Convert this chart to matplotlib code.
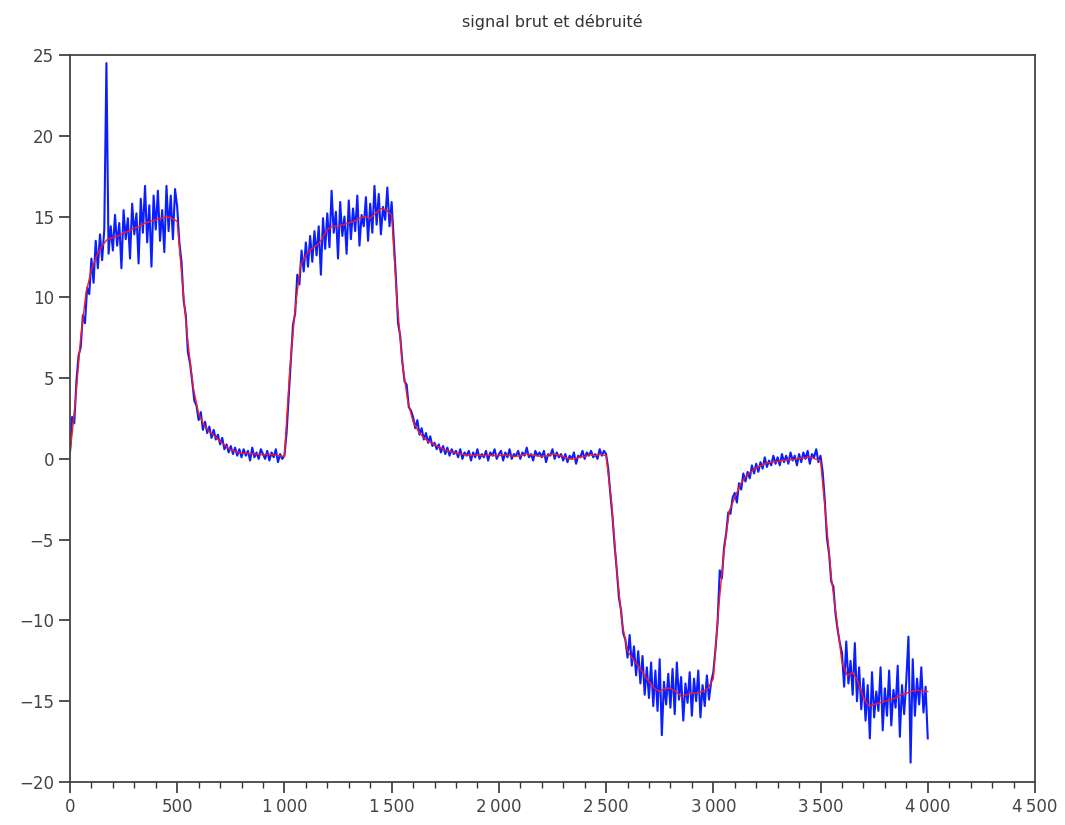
import numpy as np
import matplotlib
matplotlib.use('Agg')
import matplotlib.pyplot as plt
from matplotlib.ticker import MultipleLocator, FuncFormatter

# Signal brut : un point tous les 10 echantillons
PAS_BRUT = 10
signal_brut = [
    0.4, 2.6, 2.2, 4.8, 6.4, 6.9, 8.9, 8.4, 10.6, 10.2,
    12.4, 10.9, 13.5, 11.8, 13.9, 12.3, 14.2, 24.5, 12.7, 14.4,
    12.9, 15.1, 13.2, 14.6, 11.8, 15.4, 13.6, 14.9, 12.4, 15.8,
    13.9, 15.2, 12.1, 16.1, 14.0, 16.9, 13.4, 15.7, 11.9, 16.3,
    14.2, 16.6, 13.5, 15.4, 12.8, 16.9, 14.1, 16.3, 13.6, 16.7,
    15.6, 13.4, 12.2, 9.8, 8.9, 6.6, 5.9, 4.8, 3.6, 3.3,
    2.4, 2.9, 1.8, 2.3, 1.6, 2.0, 1.3, 1.8, 1.2, 1.5,
    0.9, 1.3, 0.6, 0.9, 0.4, 0.8, 0.3, 0.7, 0.2, 0.6,
    0.1, 0.6, 0.2, 0.5, -0.1, 0.7, 0.1, 0.4, 0.0, 0.6,
    0.3, 0.0, 0.5, -0.1, 0.4, 0.1, 0.6, -0.2, 0.3, 0.0,
    0.2, 1.6, 3.9, 6.1, 8.3, 9.0, 11.4, 10.8, 12.9, 11.6,
    13.4, 11.9, 13.8, 12.2, 14.1, 12.6, 14.4, 11.4, 14.9, 13.0,
    15.2, 13.1, 16.6, 14.0, 15.3, 12.4, 15.9, 13.8, 15.0, 12.7,
    16.0, 13.6, 15.5, 14.1, 16.3, 13.2, 15.1, 14.4, 16.2, 13.5,
    15.8, 14.0, 16.9, 14.5, 16.4, 13.9, 15.6, 14.8, 16.8, 14.4,
    15.9, 13.5, 11.2, 8.4, 7.6, 6.0, 4.8, 4.6, 3.2, 3.0,
    2.6, 1.9, 2.4, 1.5, 1.9, 1.2, 1.6, 1.0, 1.4, 0.8,
    1.0, 0.6, 0.9, 0.4, 0.8, 0.3, 0.7, 0.2, 0.6, 0.3,
    0.5, 0.1, 0.6, 0.0, 0.4, 0.2, 0.5, -0.1, 0.4, 0.1,
    0.6, 0.0, 0.3, 0.1, 0.5, -0.1, 0.4, 0.2, 0.6, 0.0,
    0.3, 0.5, -0.1, 0.4, 0.1, 0.6, 0.0, 0.3, 0.2, 0.5,
    0.0, 0.4, 0.2, 0.7, 0.1, 0.3, -0.1, 0.5, 0.2, 0.4,
    0.1, 0.5, -0.2, 0.3, 0.2, 0.6, 0.0, 0.4, 0.1, 0.3,
    -0.1, 0.3, -0.2, 0.2, 0.0, 0.4, -0.3, 0.2, 0.1, 0.5,
    0.0, 0.4, 0.2, 0.5, 0.1, 0.3, 0.0, 0.6, 0.2, 0.5,
    0.3, -0.6, -2.2, -3.6, -5.4, -6.9, -8.6, -9.4, -10.8, -11.2,
    -12.3, -10.9, -12.8, -11.6, -13.4, -11.9, -13.9, -12.2, -14.6, -12.9,
    -14.8, -12.6, -15.3, -13.1, -15.6, -12.4, -17.1, -13.8, -15.2, -13.3,
    -15.4, -13.0, -15.8, -12.6, -14.9, -13.5, -16.2, -13.9, -15.1, -13.2,
    -15.9, -13.6, -15.0, -13.1, -16.0, -14.0, -15.3, -13.4, -14.9, -13.8,
    -13.2, -11.8, -10.1, -6.9, -7.4, -5.5, -4.6, -3.3, -3.4, -2.4,
    -2.1, -2.7, -1.5, -1.9, -0.9, -1.4, -0.8, -1.2, -0.4, -0.9,
    -0.3, -0.8, -0.2, -0.6, 0.1, -0.5, -0.1, -0.4, 0.2, -0.3,
    0.1, -0.4, 0.3, -0.2, 0.2, -0.3, 0.4, -0.1, 0.2, -0.4,
    0.3, -0.2, 0.4, 0.0, 0.5, -0.3, 0.3, 0.1, 0.6, -0.2,
    0.2, -0.8, -2.6, -4.9, -5.9, -7.6, -7.9, -9.6, -10.6, -11.4,
    -12.0, -14.1, -11.3, -13.9, -12.5, -14.6, -11.4, -15.0, -12.9, -15.5,
    -13.6, -16.2, -14.0, -17.3, -13.2, -16.0, -14.4, -15.6, -12.9, -16.8,
    -14.2, -15.9, -13.1, -16.5, -14.3, -15.4, -12.8, -17.2, -14.0, -15.8,
    -13.7, -11.0, -18.8, -12.4, -15.9, -13.6, -15.2, -12.9, -15.7, -14.1,
    -17.3,
]

# Signal debruite : un point tous les 25 echantillons
PAS_DEBRUITE = 25
signal_debruite = [
    0.3, 3.5, 7.5, 10.3, 11.7, 12.6, 13.2, 13.6, 13.7, 13.8,
    14.0, 14.1, 14.3, 14.4, 14.6, 14.7, 14.8, 14.9, 15.0, 14.9,
    14.7, 10.8, 7.2, 4.4, 2.8, 2.1, 1.7, 1.4, 1.1, 0.8,
    0.55, 0.45, 0.35, 0.35, 0.3, 0.3, 0.25, 0.3, 0.25, 0.2,
    0.15, 5.5, 9.3, 12.0, 12.6, 13.0, 13.2, 13.6, 14.2, 14.4,
    14.4, 14.5, 14.6, 14.7, 14.9, 15.0, 14.9, 15.2, 15.5, 15.4,
    15.1, 9.8, 5.9, 3.6, 2.3, 1.7, 1.3, 1.05, 0.9, 0.7,
    0.55, 0.45, 0.35, 0.3, 0.25, 0.2, 0.25, 0.2, 0.25, 0.2,
    0.2, 0.25, 0.2, 0.15, 0.2, 0.3, 0.25, 0.2, 0.15, 0.2,
    0.3, 0.25, 0.15, 0.0, 0.0, 0.1, 0.15, 0.25, 0.2, 0.3,
    0.2, -2.6, -6.9, -10.2, -11.9, -12.4, -12.8, -13.3, -13.8, -14.2,
    -14.4, -14.2, -14.2, -14.4, -14.7, -14.6, -14.5, -14.5, -14.4, -14.2,
    -13.6, -9.2, -5.7, -3.2, -2.4, -1.6, -1.1, -0.8, -0.55, -0.4,
    -0.25, -0.2, -0.15, -0.1, -0.05, -0.05, 0.05, 0.05, 0.1, 0.0,
    -0.1, -3.6, -7.3, -9.9, -12.6, -13.4, -13.2, -13.8, -14.8, -15.3,
    -15.2, -15.1, -15.0, -14.9, -14.8, -14.6, -14.5, -14.4, -14.3, -14.4,
    -14.4,
]

x_brut = np.arange(len(signal_brut)) * PAS_BRUT
x_debruite = np.arange(len(signal_debruite)) * PAS_DEBRUITE

# Format des milliers a la francaise : "1 000"
def format_milliers(v, pos):
    v = int(round(v))
    if v >= 1000:
        return f'{v // 1000}\u2009{v % 1000:03d}'
    return str(v)

fig = plt.figure(figsize=(10.65, 8.25), dpi=100)
ax = fig.add_axes([0.0657, 0.0521, 0.9061, 0.8812])

# signal brut en bleu (trait epais pour rendre la bande de bruit), debruite en rouge
ax.plot(x_brut, signal_brut, color='#0a1eff', linewidth=1.5, solid_joinstyle='round')
ax.plot(x_debruite, signal_debruite, color='#ff1a1a', linewidth=1.0)

ax.set_xlim(0, 4500)
ax.set_ylim(-20, 25)
ax.xaxis.set_major_locator(MultipleLocator(500))
ax.xaxis.set_minor_locator(MultipleLocator(100))
ax.yaxis.set_major_locator(MultipleLocator(5))
ax.xaxis.set_major_formatter(FuncFormatter(format_milliers))

ax.tick_params(axis='both', which='major', direction='out', length=8, width=1.2,
               colors='#333333', labelsize=12, labelcolor='#444444')
ax.tick_params(axis='x', which='minor', direction='out', length=4, width=1.0, colors='#333333')
for s in ax.spines.values():
    s.set_color('#444444')
    s.set_linewidth(1.3)

ax.set_title('signal brut et débruité', fontsize=11.5, color='#333333', pad=20)

fig.savefig('out.png', dpi=100)
